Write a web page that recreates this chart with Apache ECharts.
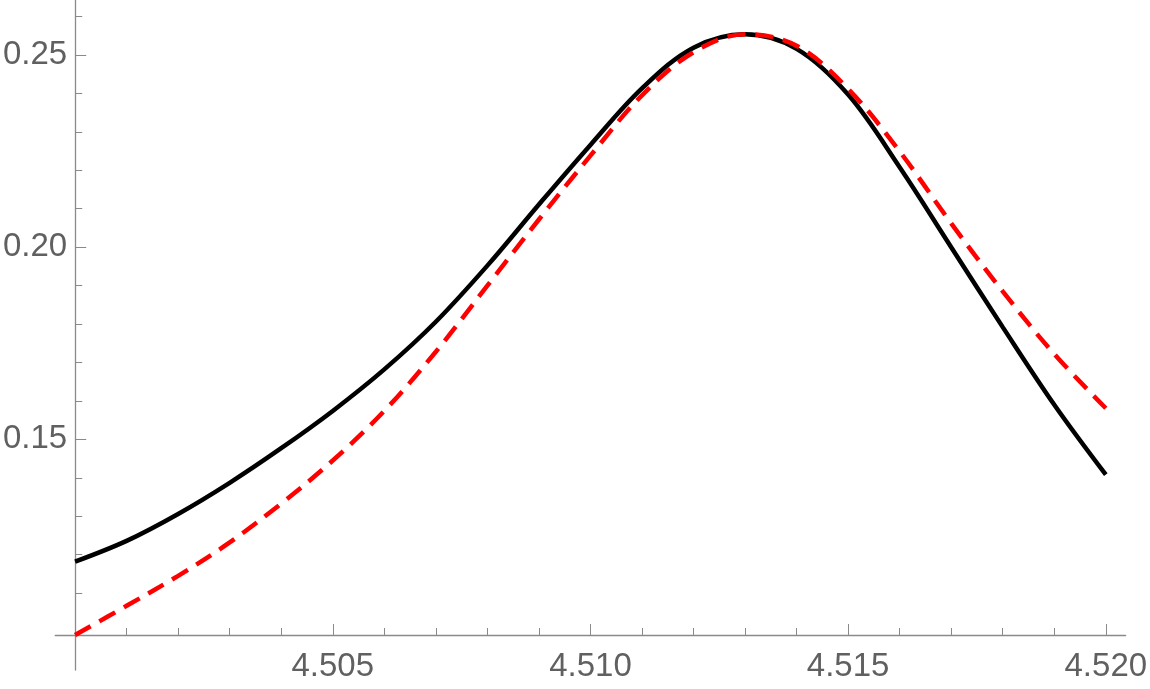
<!DOCTYPE html>
<html>
<head>
<meta charset="utf-8">
<script src="https://cdn.jsdelivr.net/npm/echarts@6/dist/echarts.min.js"></script>
<style>
  html, body { margin: 0; padding: 0; background: #fff; }
  #chart { width: 1150px; height: 689px; }
</style>
</head>
<body>
<div id="chart"></div>
<script>
  // x positions (step 0.001)
  var xValues = [4.500, 4.501, 4.502, 4.503, 4.504, 4.505, 4.506, 4.507, 4.508, 4.509, 4.510,
                 4.511, 4.512, 4.513, 4.514, 4.515, 4.516, 4.517, 4.518, 4.519, 4.520]
  // black solid curve
  var blackValues = [0.1182, 0.1236, 0.1306, 0.1387, 0.1477, 0.1574, 0.1682, 0.1806, 0.1952, 0.2111, 0.2266,
                     0.2413, 0.2519, 0.2554, 0.2516, 0.2397, 0.2208, 0.2000, 0.1792, 0.1590, 0.1408]
  // red dashed curve
  var redValues = [0.0991, 0.1067, 0.1145, 0.1232, 0.1333, 0.1445, 0.1574, 0.1728, 0.1900, 0.2072, 0.2238,
                   0.2395, 0.2507, 0.2554, 0.2524, 0.2412, 0.2249, 0.2062, 0.1885, 0.1722, 0.1581]

  // ticks
  var xMajorTicks = [4.505, 4.510, 4.515, 4.520]
  var xMinorTicks = [4.501, 4.502, 4.503, 4.504, 4.506, 4.507, 4.508, 4.509, 4.511, 4.512,
                     4.513, 4.514, 4.516, 4.517, 4.518, 4.519]
  var yMajorTicks = [0.15, 0.20, 0.25]
  var yMinorTicks = [0.11, 0.12, 0.13, 0.14, 0.16, 0.17, 0.18, 0.19, 0.21, 0.22, 0.23, 0.24, 0.26]

  var pair = function (ys) {
    return xValues.map(function (x, i) { return [x, ys[i]] })
  }

  var axisColor = '#8a8a8a'
  var labelStyle = { color: '#606060', fontSize: 33, fontFamily: 'Liberation Sans, Arial, sans-serif' }

  // x axis sits at y = 0.099, y axis at x = 4.500 (axes overhang like the original)
  var xMin = 4.499615, xMax = 4.520385
  var yMin = 0.09, yMax = 0.2643

  var chart = echarts.init(document.getElementById('chart'), null, { renderer: 'canvas' })
  chart.setOption({
    animation: false,
    backgroundColor: '#fff',
    grid: { left: 50, right: 22, top: 0, bottom: 19, containLabel: false },
    xAxis: [
      {
        type: 'value', position: 'bottom', min: xMin, max: xMax, offset: -35,
        axisLine: { show: true, lineStyle: { color: axisColor, width: 1.3 } },
        axisTick: { show: true, inside: true, length: 7, customValues: xMinorTicks, lineStyle: { color: axisColor, width: 1 } },
        axisLabel: { show: false },
        splitLine: { show: false }
      },
      {
        type: 'value', position: 'bottom', min: xMin, max: xMax, offset: -35,
        axisLine: { show: false },
        axisTick: { show: true, inside: true, length: 11, customValues: xMajorTicks, lineStyle: { color: axisColor, width: 1 } },
        axisLabel: Object.assign({
          show: true, margin: 15, customValues: xMajorTicks,
          formatter: function (v) { return v.toFixed(3) }
        }, labelStyle),
        splitLine: { show: false }
      }
    ],
    yAxis: [
      {
        type: 'value', position: 'left', min: yMin, max: yMax, offset: -20,
        axisLine: { show: true, lineStyle: { color: axisColor, width: 1.3 } },
        axisTick: { show: true, inside: true, length: 7, customValues: yMinorTicks, lineStyle: { color: axisColor, width: 1 } },
        axisLabel: { show: false },
        splitLine: { show: false }
      },
      {
        type: 'value', position: 'left', min: yMin, max: yMax, offset: -20,
        axisLine: { show: false },
        axisTick: { show: true, inside: true, length: 11, customValues: yMajorTicks, lineStyle: { color: axisColor, width: 1 } },
        axisLabel: Object.assign({
          show: true, margin: 8, customValues: yMajorTicks,
          formatter: function (v) { return v.toFixed(2) }
        }, labelStyle),
        splitLine: { show: false }
      }
    ],
    series: [
      {
        name: 'black', type: 'line', xAxisIndex: 0, yAxisIndex: 0,
        data: pair(blackValues), smooth: 0.35, showSymbol: false, clip: false,
        lineStyle: { color: '#000', width: 4.5 }, z: 3
      },
      {
        name: 'red', type: 'line', xAxisIndex: 0, yAxisIndex: 0,
        data: pair(redValues), smooth: 0.35, showSymbol: false, clip: false,
        lineStyle: { color: '#f00', width: 4.5, type: [18, 10], cap: 'butt' }, z: 4
      }
    ]
  })
</script>
</body>
</html>
